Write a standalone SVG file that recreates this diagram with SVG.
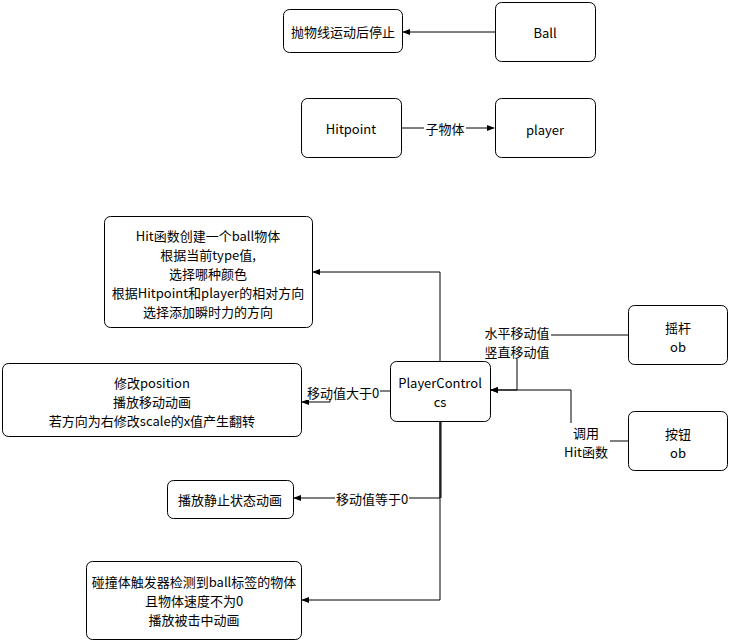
<svg xmlns="http://www.w3.org/2000/svg" width="729" height="641" viewBox="0 0 729 641">
<defs>
<style>
.n{fill:#fff;stroke:#000;stroke-width:1}
.t{font-family:"Noto Sans CJK SC","Liberation Sans",sans-serif;font-size:13px;fill:#000;text-anchor:middle;dominant-baseline:central}
.e{fill:none;stroke:#000;stroke-width:1}
.lb{fill:#fff}
</style>
<marker id="a" viewBox="0 0 10 10" refX="9" refY="5" markerWidth="8" markerHeight="8" orient="auto" markerUnits="userSpaceOnUse">
<path d="M0,1 L10,5 L0,9 z" fill="#000"/>
</marker>
</defs>
<rect width="729" height="641" fill="#fff"/>
<g id="connectors">
<path class="e" d="M495,32 H403" marker-end="url(#a)"/>
<path class="e" d="M401,128 H494" marker-end="url(#a)"/>
<path class="e" d="M440,361 V272 H313" marker-end="url(#a)"/>
<path class="e" d="M390,391 H330 V402 H302" marker-end="url(#a)"/>
<path class="e" d="M628,335 H517 V390 H491" marker-end="url(#a)"/>
<path class="e" d="M628,441 H571 V390 H491" marker-end="url(#a)"/>
<path class="e" d="M440,421 V498 H294" marker-end="url(#a)"/>
<path class="e" d="M441,421 V498"/>
<path class="e" d="M440,421 V600 H302" marker-end="url(#a)"/>
<rect class="lb" x="424" y="120" width="42" height="16"/>
<text class="t" x="445" y="128">子物体</text>
<rect class="lb" x="306" y="384" width="74" height="16"/>
<text class="t" x="343" y="392">移动值大于0</text>
<rect class="lb" x="484" y="323" width="67" height="36"/>
<text class="t" x="517" y="332">水平移动值</text>
<text class="t" x="517" y="351">竖直移动值</text>
<rect class="lb" x="562" y="423" width="48" height="36"/>
<text class="t" x="586" y="432">调用</text>
<text class="t" x="586" y="451">Hit函数</text>
<rect class="lb" x="335" y="490" width="74" height="16"/>
<text class="t" x="372" y="498">移动值等于0</text>
</g>
<g id="ball"><rect class="n" x="495.5" y="2.5" width="100" height="59" rx="6"/><text class="t" x="545" y="32">Ball</text></g>
<g id="parabola"><rect class="n" x="283.5" y="9.5" width="119" height="43" rx="6"/><text class="t" x="343" y="31">抛物线运动后停止</text></g>
<g id="hitpoint"><rect class="n" x="301.5" y="98.5" width="100" height="59" rx="6"/><text class="t" x="351" y="128">Hitpoint</text></g>
<g id="player"><rect class="n" x="495.5" y="98.5" width="100" height="59" rx="6"/><text class="t" x="545" y="129">player</text></g>
<g id="hit"><rect class="n" x="104.5" y="216.5" width="208" height="111" rx="6"/>
<text class="t" x="208" y="235">Hit函数创建一个ball物体</text>
<text class="t" x="208" y="254">根据当前type值,</text>
<text class="t" x="208" y="273">选择哪种颜色</text>
<text class="t" x="208" y="292">根据Hitpoint和player的相对方向</text>
<text class="t" x="208" y="311">选择添加瞬时力的方向</text></g>
<g id="playercontrol"><rect class="n" x="390.5" y="361.5" width="100" height="60" rx="6"/>
<text class="t" x="440" y="382">PlayerControl</text><text class="t" x="440" y="401">cs</text></g>
<g id="move"><rect class="n" x="2.5" y="363.5" width="299" height="73" rx="6"/>
<text class="t" x="152" y="382">修改position</text>
<text class="t" x="152" y="401">播放移动动画</text>
<text class="t" x="152" y="420">若方向为右修改scale的x值产生翻转</text></g>
<g id="joystick"><rect class="n" x="628.5" y="305.5" width="99" height="59" rx="6"/>
<text class="t" x="678" y="327">摇杆</text><text class="t" x="678" y="346">ob</text></g>
<g id="button"><rect class="n" x="628.5" y="411.5" width="99" height="59" rx="6"/>
<text class="t" x="678" y="433">按钮</text><text class="t" x="678" y="452">ob</text></g>
<g id="idle"><rect class="n" x="167.5" y="480.5" width="126" height="38" rx="6"/>
<text class="t" x="230" y="499">播放静止状态动画</text></g>
<g id="hitanim"><rect class="n" x="86.5" y="561.5" width="215" height="78" rx="6"/>
<text class="t" x="194" y="581">碰撞体触发器检测到ball标签的物体</text>
<text class="t" x="194" y="600">且物体速度不为0</text>
<text class="t" x="194" y="619">播放被击中动画</text></g>
</svg>
